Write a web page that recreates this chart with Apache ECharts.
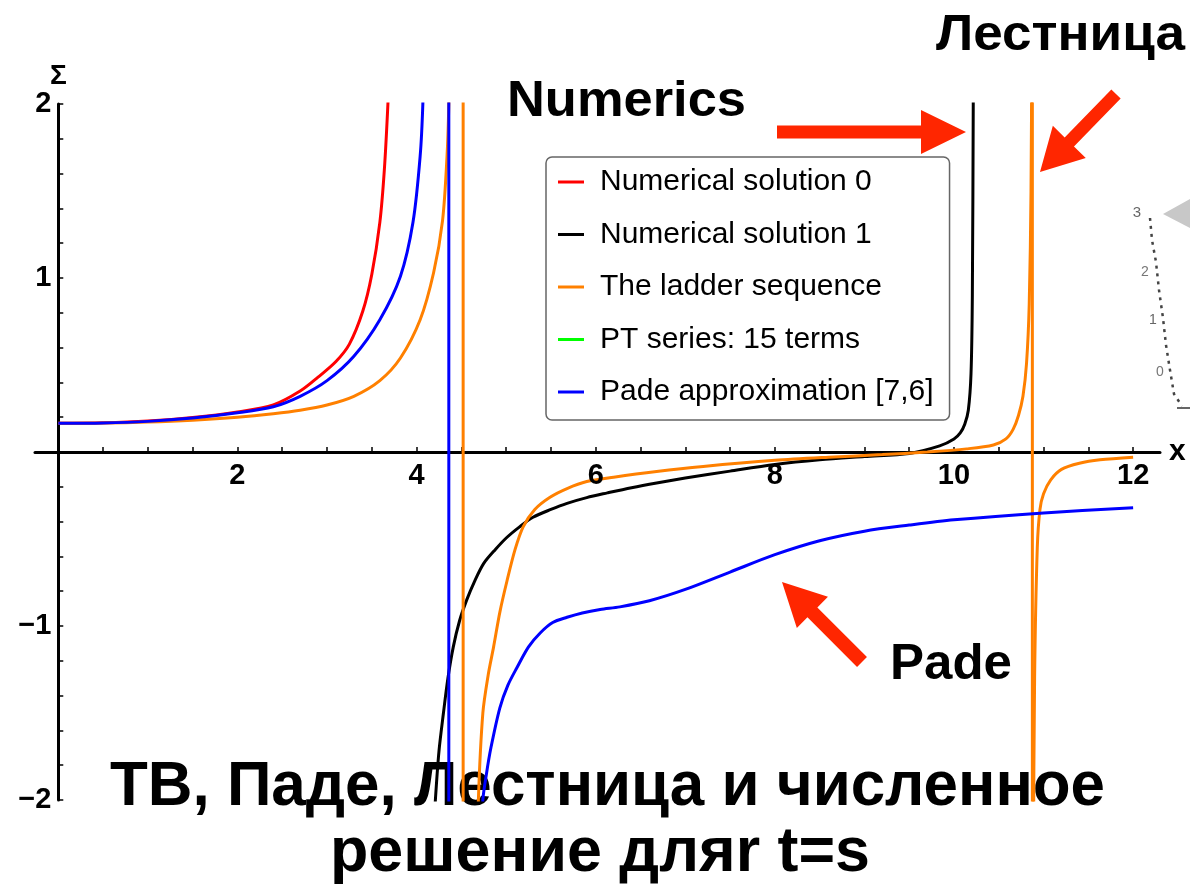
<!DOCTYPE html>
<html>
<head>
<meta charset="utf-8">
<script src="https://cdn.jsdelivr.net/npm/echarts@6/dist/echarts.min.js"></script>
<style>
  html, body { margin: 0; padding: 0; background: #ffffff; }
  #chart { width: 1190px; height: 896px; }
</style>
</head>
<body>
<div id="chart"></div>
<script>
// ---- Σ(x) curves, one pair of arrays per branch ----
// Numerical solution 0
const num0X = [0, 0.5, 1, 1.5, 2, 2.4, 2.7, 2.9, 3.1, 3.25, 3.4, 3.5, 3.59, 3.64, 3.68, 3.72];
const num0Y = [0.165, 0.168, 0.178, 0.198, 0.23, 0.27, 0.35, 0.43, 0.52, 0.62, 0.81, 1.02, 1.32, 1.62, 2.0, 2.5];

// Numerical solution 1
const num1X = [4.19, 4.21, 4.25, 4.30, 4.35, 4.41, 4.48, 4.56, 4.65, 4.75, 4.88, 5.01, 5.15, 5.30, 5.5, 5.68, 5.9, 6.13, 6.4, 6.68, 7.0, 7.5, 8.0, 8.5, 9.0, 9.5, 9.84, 10.0, 10.07, 10.12, 10.16, 10.19, 10.205, 10.215, 10.225];
const num1Y = [-2.2, -2.0, -1.72, -1.50, -1.30, -1.12, -0.97, -0.85, -0.74, -0.64, -0.56, -0.49, -0.43, -0.375, -0.33, -0.295, -0.262, -0.235, -0.205, -0.178, -0.15, -0.11, -0.072, -0.045, -0.026, -0.008, 0.035, 0.075, 0.11, 0.16, 0.24, 0.45, 0.9, 2.0, 3.0];

// The ladder sequence
const ladderLeftX = [0, 0.5, 1, 1.5, 2, 2.4, 2.7, 3.0, 3.3, 3.59, 3.82, 4.04, 4.19, 4.29, 4.34, 4.36, 4.38];
const ladderLeftY = [0.165, 0.166, 0.172, 0.183, 0.20, 0.22, 0.24, 0.27, 0.32, 0.41, 0.54, 0.76, 1.03, 1.33, 1.70, 2.0, 2.6];
const ladderJump1X = [4.52, 4.52];
const ladderJump1Y = [2.5, -2.5];
const ladderMidX = [4.68, 4.69, 4.74, 4.80, 4.86, 4.93, 5.01, 5.10, 5.19, 5.32, 5.49, 5.68, 5.90, 6.2, 6.68, 7.2, 8.0, 8.6, 9.2, 9.7, 10.14, 10.44, 10.58, 10.66, 10.72, 10.77, 10.81, 10.84, 10.86, 10.87];
const ladderMidY = [-2.4, -2.0, -1.50, -1.28, -1.12, -0.92, -0.74, -0.56, -0.43, -0.33, -0.26, -0.21, -0.17, -0.145, -0.112, -0.083, -0.048, -0.03, -0.015, 0.0, 0.018, 0.04, 0.075, 0.13, 0.21, 0.32, 0.51, 0.85, 1.5, 2.5];
const ladderJump2X = [10.875, 10.875];
const ladderJump2Y = [2.5, -2.5];
const ladderRightX = [10.885, 10.90, 10.93, 10.96, 11.0, 11.08, 11.2, 11.4, 11.63, 12.0];
const ladderRightY = [-2.5, -1.3, -0.55, -0.33, -0.24, -0.16, -0.10, -0.065, -0.045, -0.03];

// PT series: 15 terms (stays outside the visible window)
const ptX = [];
const ptY = [];

// Pade approximation [7,6]
const padeLeftX = [0, 0.5, 1, 1.5, 2, 2.4, 2.7, 3.0, 3.3, 3.59, 3.82, 3.96, 4.04, 4.07, 4.1];
const padeLeftY = [0.165, 0.167, 0.176, 0.195, 0.225, 0.26, 0.32, 0.41, 0.55, 0.76, 1.01, 1.32, 1.70, 2.0, 2.6];
const padeJumpX = [4.36, 4.36];
const padeJumpY = [2.5, -2.5];
const padeRightX = [4.72, 4.74, 4.78, 4.83, 4.93, 5.02, 5.12, 5.25, 5.38, 5.52, 5.68, 5.85, 6.05, 6.27, 6.6, 7.0, 7.5, 8.0, 8.5, 9.0, 9.5, 10.0, 11.0, 12.0];
const padeRightY = [-2.3, -2.0, -1.85, -1.7, -1.47, -1.34, -1.24, -1.12, -1.04, -0.98, -0.95, -0.925, -0.905, -0.89, -0.855, -0.79, -0.69, -0.59, -0.51, -0.455, -0.42, -0.39, -0.35, -0.32];

// Axis tick labels
const xTickLabels = [2, 4, 6, 8, 10, 12];
const yTickLabels = [-2, -1, 1, 2];

// Legend entries in display order
const seriesNames = ['Numerical solution 0', 'Numerical solution 1', 'The ladder sequence', 'PT series: 15 terms', 'Pade approximation [7,6]'];
const seriesColors = ['#ff0000', '#000000', '#ff8000', '#00ff00', '#0000ff'];

// ---- building the chart ----
const zip = (xs, ys) => xs.map((x, i) => [x, ys[i]]);
const bold = '"Liberation Sans", Arial, Helvetica, sans-serif';

function branch(nameIdx, xs, ys, smooth) {
  return {
    type: 'line',
    name: seriesNames[nameIdx],
    data: zip(xs, ys),
    showSymbol: false,
    symbol: 'none',
    smooth: smooth ? 0.3 : false,
    clip: true,
    lineStyle: { color: seriesColors[nameIdx], width: 3 },
    itemStyle: { color: seriesColors[nameIdx] },
    emphasis: { disabled: true },
    animation: false
  };
}

// tick labels pinned to the axes crossing at the origin
function tickLabels(points, position, distance, formatter) {
  return {
    type: 'scatter',
    data: points,
    symbolSize: 0,
    silent: true,
    z: 3,
    itemStyle: { opacity: 1, color: '#000' },
    label: {
      show: true, position: position, distance: distance, formatter: formatter,
      fontFamily: bold, fontWeight: 'bold', fontSize: 29, color: '#000000',
      opacity: 1, textBorderWidth: 0
    },
    emphasis: { disabled: true },
    animation: false
  };
}

const minus = v => (v < 0 ? '\u2212' + (-v) : String(v));

const series = [
  branch(0, num0X, num0Y, true),
  branch(1, num1X, num1Y, true),
  branch(2, ladderLeftX, ladderLeftY, true),
  branch(2, ladderJump1X, ladderJump1Y, false),
  branch(2, ladderMidX, ladderMidY, true),
  branch(2, ladderJump2X, ladderJump2Y, false),
  branch(2, ladderRightX, ladderRightY, true),
  branch(3, ptX, ptY, false),
  branch(4, padeLeftX, padeLeftY, true),
  branch(4, padeJumpX, padeJumpY, false),
  branch(4, padeRightX, padeRightY, true),
  tickLabels(xTickLabels.map(v => [v, 0]), 'bottom', 9, p => minus(p.value[0])),
  tickLabels(yTickLabels.map(v => [0, v]), 'left', 7, p => minus(p.value[1]))
];

// minor ticks: every 0.5 along x, every 0.2 along y
const xTicks = [];
for (let i = 1; i <= 24; i++) xTicks.push(i * 0.5);
const yTicks = [];
for (let i = -10; i <= 10; i++) if (i !== 0) yTicks.push(i / 5);

const measureCtx = document.createElement('canvas').getContext('2d');
function widthScale(text, font, targetWidth) {
  measureCtx.font = font;
  return targetWidth / measureCtx.measureText(text).width;
}

function label(text, cx, cy, size, targetWidth) {
  const font = 'bold ' + size + 'px ' + bold;
  return {
    type: 'text',
    x: cx, y: cy,
    scaleX: widthScale(text, font, targetWidth),
    z: 1,
    silent: true,
    style: { text: text, font: font, fill: '#000', align: 'center', verticalAlign: 'middle' }
  };
}

function arrow(x1, y1, x2, y2, shaftW, headL, headW) {
  const dx = x2 - x1, dy = y2 - y1;
  const len = Math.hypot(dx, dy);
  const ux = dx / len, uy = dy / len;
  const nx = -uy, ny = ux;
  const bx = x2 - ux * headL, by = y2 - uy * headL;
  const pts = [
    [x1 + nx * shaftW / 2, y1 + ny * shaftW / 2],
    [bx + nx * shaftW / 2, by + ny * shaftW / 2],
    [bx + nx * headW / 2, by + ny * headW / 2],
    [x2, y2],
    [bx - nx * headW / 2, by - ny * headW / 2],
    [bx - nx * shaftW / 2, by - ny * shaftW / 2],
    [x1 - nx * shaftW / 2, y1 - ny * shaftW / 2]
  ];
  return { type: 'polygon', z: 10, silent: true, shape: { points: pts }, style: { fill: '#ff2600' } };
}

// small grey sketch cut off at the right edge
const sketch = [
  { type: 'polygon', z: 1, silent: true, shape: { points: [[1163, 214], [1190, 199], [1190, 228]] }, style: { fill: '#c8c8c8' } },
  { type: 'polyline', z: 1, silent: true,
    shape: { points: [[1150, 218], [1152, 240], [1156, 262], [1159, 290], [1163, 318], [1166, 345], [1170, 370], [1174, 394], [1182, 406]] },
    style: { stroke: '#444', lineWidth: 2.5, lineDash: [3, 5], fill: null } },
  { type: 'text', z: 1, silent: true, x: 1137, y: 213, style: { text: '3', font: '15px ' + bold, fill: '#666', align: 'center', verticalAlign: 'middle' } },
  { type: 'text', z: 1, silent: true, x: 1145, y: 272, style: { text: '2', font: '14px ' + bold, fill: '#777', align: 'center', verticalAlign: 'middle' } },
  { type: 'text', z: 1, silent: true, x: 1153, y: 320, style: { text: '1', font: '14px ' + bold, fill: '#666', align: 'center', verticalAlign: 'middle' } },
  { type: 'text', z: 1, silent: true, x: 1160, y: 372, style: { text: '0', font: '14px ' + bold, fill: '#777', align: 'center', verticalAlign: 'middle' } },
  { type: 'rect', z: 1, silent: true, shape: { x: 1177, y: 407, width: 13, height: 2 }, style: { fill: '#666' } }
];

const chart = echarts.init(document.getElementById('chart'), null, { renderer: 'canvas' });

chart.setOption({
  backgroundColor: '#ffffff',
  animation: false,
  grid: { left: 35, right: 30, top: 104, bottom: 96, containLabel: false, outerBoundsMode: 'none' },
  xAxis: {
    type: 'value',
    min: -0.26,
    max: 12.3,
    name: 'x',
    nameLocation: 'end',
    nameGap: 9,
    nameTextStyle: { fontFamily: bold, fontWeight: 'bold', fontSize: 30, color: '#000', verticalAlign: 'middle' },
    axisLine: { onZero: true, lineStyle: { color: '#000', width: 3 } },
    axisTick: { show: true, inside: true, length: 5, customValues: xTicks, lineStyle: { color: '#000', width: 1.5 } },
    axisLabel: { show: false },
    splitLine: { show: false }
  },
  yAxis: {
    type: 'value',
    min: -2,
    max: 2,
    name: 'Σ',
    nameLocation: 'end',
    nameGap: 14,
    nameTextStyle: { fontFamily: bold, fontWeight: 'bold', fontSize: 28, color: '#000', align: 'center' },
    axisLine: { onZero: true, lineStyle: { color: '#000', width: 3 } },
    axisTick: { show: true, inside: true, length: 5, customValues: yTicks, lineStyle: { color: '#000', width: 1.5 } },
    axisLabel: { show: false },
    splitLine: { show: false }
  },
  legend: {
    data: seriesNames,
    orient: 'vertical',
    left: 546,
    top: 157,
    padding: [9, 16, 12, 12],
    itemGap: 20.5,
    itemWidth: 26,
    itemHeight: 3,
    icon: 'rect',
    backgroundColor: '#ffffff',
    borderColor: '#666666',
    borderWidth: 1.5,
    borderRadius: 6,
    selectedMode: false,
    textStyle: { fontFamily: '"Liberation Sans", Arial, sans-serif', fontSize: 30, color: '#000', lineHeight: 32, padding: [0, 0, 0, 11] }
  },
  series: series,
  graphic: [
    label('Numerics', 626.5, 102.5, 50, 239),
    label('Лестница', 1060.5, 36, 50, 249),
    label('Pade', 951, 665, 50, 122),
    label('ТВ, Паде, Лестница и численное', 607.5, 787.5, 63, 995),
    label('решение дляr t=s', 600, 854, 63, 540),
    arrow(777, 132, 966, 132, 13, 45, 44),
    arrow(1116, 94, 1040, 172, 13, 42, 46),
    arrow(862, 662, 782, 582, 14, 43, 44)
  ].concat(sketch)
});
</script>
</body>
</html>
